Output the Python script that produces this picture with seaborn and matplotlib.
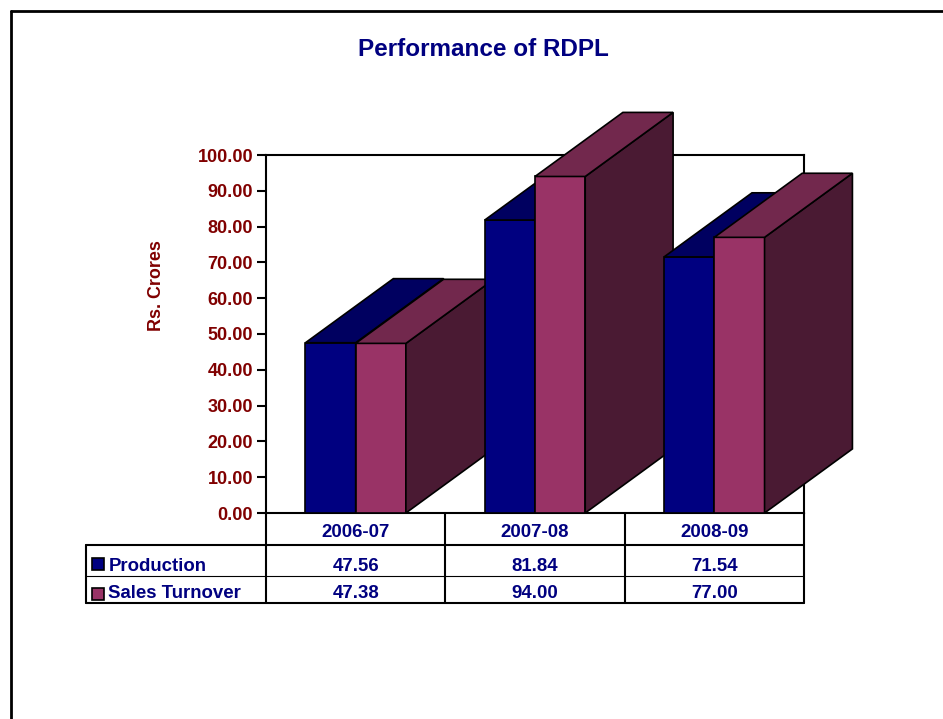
import numpy as np
import pandas as pd
import matplotlib
matplotlib.use("Agg")
import matplotlib.pyplot as plt
import matplotlib.ticker as mticker
from matplotlib.patches import Polygon, Rectangle
from matplotlib.lines import Line2D
import seaborn as sns

# ── data ──────────────────────────────────────────────────────────────────────
YEARS = ["2006-07", "2007-08", "2008-09"]
SERIES = ["Production", "Sales Turnover"]
PRODUCTION = [47.56, 81.84, 71.54]
SALES = [47.38, 94.00, 77.00]
Y_TICKS = [0, 10, 20, 30, 40, 50, 60, 70, 80, 90, 100]

# ── style ─────────────────────────────────────────────────────────────────────
NAVY = "#000080"
DARK_RED = "#800000"
FRONT = ["#000080", "#993366"]
TOP = ["#000060", "#72284D"]
SIDE = ["#000048", "#4A1A33"]
DEPTH_X = 0.49      # category units
DEPTH_Y = 17.9      # value units

sns.set_theme(style="white")
plt.rcParams["font.family"] = ["Liberation Sans", "DejaVu Sans"]
plt.rcParams["font.weight"] = "bold"

df = pd.DataFrame({
    "year": YEARS * 2,
    "series": [SERIES[0]] * len(YEARS) + [SERIES[1]] * len(YEARS),
    "value": PRODUCTION + SALES,
})

fig = plt.figure(figsize=(9.43, 7.19), dpi=100)
ax = fig.add_axes([266 / 943, 1 - 513 / 719, 538 / 943, 358 / 719])

sns.barplot(data=df, x="year", y="value", hue="series", palette=FRONT,
            width=0.56, saturation=1, edgecolor="black", linewidth=1.2,
            errorbar=None, legend=False, ax=ax)

ax.set_xlim(-0.5, len(YEARS) - 0.5)
ax.set_ylim(0, 100)

# 3D faces for each bar
for p in list(ax.patches):
    x0, w, h = p.get_x(), p.get_width(), p.get_height()
    cx = x0 + w / 2
    cat = int(round(cx))
    ser = 0 if cx < cat else 1
    z = 3 + 2 * cat + ser
    p.set_zorder(z)
    top = Polygon([(x0, h), (x0 + w, h), (x0 + w + DEPTH_X, h + DEPTH_Y),
                   (x0 + DEPTH_X, h + DEPTH_Y)], closed=True,
                  facecolor=TOP[ser], edgecolor="black", lw=1.2,
                  zorder=z, clip_on=False)
    side = Polygon([(x0 + w, 0), (x0 + w + DEPTH_X, DEPTH_Y),
                    (x0 + w + DEPTH_X, h + DEPTH_Y), (x0 + w, h)], closed=True,
                   facecolor=SIDE[ser], edgecolor="black", lw=1.2,
                   zorder=z, clip_on=False)
    ax.add_patch(side)
    ax.add_patch(top)

# axes frame & ticks
for s in ax.spines.values():
    s.set_visible(True)
    s.set_color("black")
    s.set_linewidth(1.5)
    s.set_zorder(2)
ax.set_yticks(Y_TICKS)
ax.yaxis.set_major_formatter(mticker.FormatStrFormatter("%.2f"))
ax.tick_params(axis="y", left=True, direction="out", length=6.7, width=1.5,
               color="black", pad=2.5, labelsize=13, labelcolor=DARK_RED)
for lab in ax.get_yticklabels():
    lab.set_fontweight("bold")
ax.set_xticks([])
ax.set_xlabel("")
ax.set_ylabel("")
ax.grid(False)

# data table under the axes
tr = ax.get_xaxis_transform()
left_x = -0.5 + (86 - 266) / 179.33
y_head, y_row1, y_row2 = -0.0894, -0.1751, -0.2506


def line(xs, ys, lw):
    ax.add_line(Line2D(xs, ys, transform=tr, color="black", lw=lw,
                       clip_on=False, zorder=2))


for b in np.arange(len(YEARS) + 1) - 0.5:
    line([b, b], [0, y_row2], 1.5)
line([left_x, left_x], [y_head, y_row2], 1.5)
line([left_x, len(YEARS) - 0.5], [y_head, y_head], 1.5)
line([left_x, len(YEARS) - 0.5], [y_row1, y_row1], 0.8)
line([left_x, len(YEARS) - 0.5], [y_row2, y_row2], 1.5)

txt = dict(transform=tr, color=NAVY, fontsize=13.4, fontweight="bold",
           va="baseline", clip_on=False)
for i, yr in enumerate(YEARS):
    ax.text(i, -0.0679, yr, ha="center", **txt)
    ax.text(i, -0.1612, f"{PRODUCTION[i]:.2f}", ha="center", **txt)
    ax.text(i, -0.2383, f"{SALES[i]:.2f}", ha="center", **txt)

key_x = -0.5 + (91.7 - 266) / 179.33
key_w = 12.6 / 179.33
for ser, (name, yb, yt) in enumerate([(SERIES[0], -0.1592, -0.1612),
                                      (SERIES[1], -0.2430, -0.2383)]):
    ax.add_patch(Rectangle((key_x, yb), key_w, 0.0327, transform=tr,
                           facecolor=FRONT[ser], edgecolor="black", lw=1.2,
                           clip_on=False))
    ax.text(-0.5 + (108.3 - 266) / 179.33, yt, name, ha="left", **txt)

# labels & outer frame
fig.text(483 / 943, 1 - 49 / 719, "Performance of RDPL", ha="center",
         va="center", fontsize=17.5, fontweight="bold", color=NAVY)
fig.text(156.7 / 943, 1 - 285.4 / 719, "Rs. Crores", rotation=90,
         ha="center", va="center", fontsize=12.9, fontweight="bold",
         color=DARK_RED)
fig.add_artist(Line2D([10.5 / 943, 10.5 / 943], [0, 1 - 10.5 / 719],
                      color="black", lw=2))
fig.add_artist(Line2D([10.5 / 943, 1], [1 - 10.5 / 719, 1 - 10.5 / 719],
                      color="black", lw=2))

fig.savefig("out.png", dpi=100, facecolor="white")
